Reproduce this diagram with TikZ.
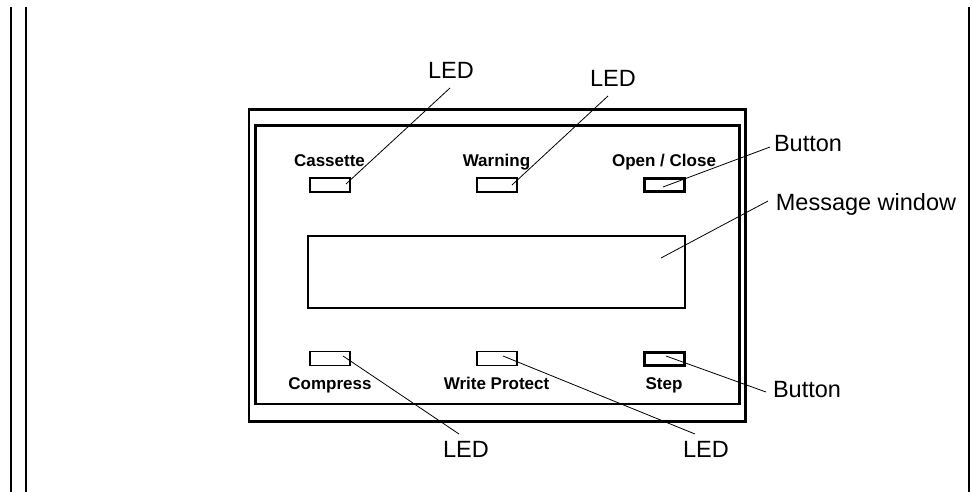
\documentclass[tikz,border=0pt]{standalone}
\usepackage{fontspec}
\setmainfont{Liberation Sans}
\begin{document}
\begin{tikzpicture}[x=1pt,y=-1pt,
  panel/.style={draw=black,line width=2.2pt},
  ledbox/.style={draw=black,line width=1.7pt,fill=white},
  btnbox/.style={draw=black,line width=3pt,fill=white},
  small/.style={font=\fontsize{17}{19}\selectfont\bfseries,anchor=base,inner sep=0pt},
  callout/.style={font=\fontsize{23.5}{26}\selectfont,anchor=base,inner sep=0pt},
  leader/.style={draw=black,line width=0.8pt}]
\useasboundingbox (0,0) rectangle (972,492);
% side lines
\draw[line width=2pt] (10.5,7) -- (10.5,492);
\draw[line width=2pt] (25.5,7) -- (25.5,492);
\draw[line width=2pt] (969,7) -- (969,492);
% panel boxes
\draw[panel] (249,109.5) rectangle (745.5,421.5);
\draw[panel] (255.5,125.5) rectangle (739.5,404);
\draw[line width=2pt] (307.5,235.5) rectangle (685,308);
\coordinate (winpt) at (661,258);
% indicators
\node[ledbox,minimum width=40pt,minimum height=14pt,inner sep=0pt] (cas) at (330,185) {};
\node[ledbox,minimum width=40pt,minimum height=14pt,inner sep=0pt] (war) at (497,185) {};
\node[btnbox,minimum width=40pt,minimum height=13pt,inner sep=0pt] (opn) at (664.5,185) {};
\node[ledbox,minimum width=40pt,minimum height=14pt,inner sep=0pt] (cmp) at (330,358.5) {};
\node[ledbox,minimum width=40pt,minimum height=14pt,inner sep=0pt] (wrp) at (497,358.5) {};
\node[btnbox,minimum width=40pt,minimum height=13pt,inner sep=0pt] (stp) at (664.5,358.5) {};
% small labels
\node[small] (lcas) at (329.5,167) {Cassette};
\node[small] (lwar) at (496.5,167) {Warning};
\node[small] (lopn) at (664,167) {Open / Close};
\node[small] (lcmp) at (330,389) {Compress};
\node[small] (lwrp) at (496.5,389) {Write Protect};
\node[small] (lstp) at (664,389) {Step};
% callouts
\node[callout] (c1) at (451,79) {LED};
\node[callout] (c2) at (613,87) {LED};
\node[callout] (c3) at (808,152) {Button};
\node[callout] (c4) at (866,211) {Message window};
\node[callout] (c5) at (807,397) {Button};
\node[callout] (c6) at (466,457) {LED};
\node[callout] (c7) at (706,457) {LED};
% leader end points
\coordinate (p1) at (346,184);   \coordinate (q1) at (450,88);
\coordinate (p2) at (512,185);   \coordinate (q2) at (608,96);
\coordinate (p3) at (663,187);   \coordinate (q3) at (770,147);
\coordinate (q4) at (768,201);
\coordinate (p5) at (666,356);   \coordinate (q5) at (766,392);
\coordinate (p6) at (503,356);   \coordinate (q6) at (695,434);
\coordinate (p7) at (343,356);   \coordinate (q7) at (459,434);
\draw[leader] (p1) -- (q1);
\draw[leader] (p2) -- (q2);
\draw[leader] (p3) -- (q3);
\draw[leader] (winpt) -- (q4);
\draw[leader] (p5) -- (q5);
\draw[leader] (p6) -- (q6);
\draw[leader] (p7) -- (q7);
\end{tikzpicture}
\end{document}
